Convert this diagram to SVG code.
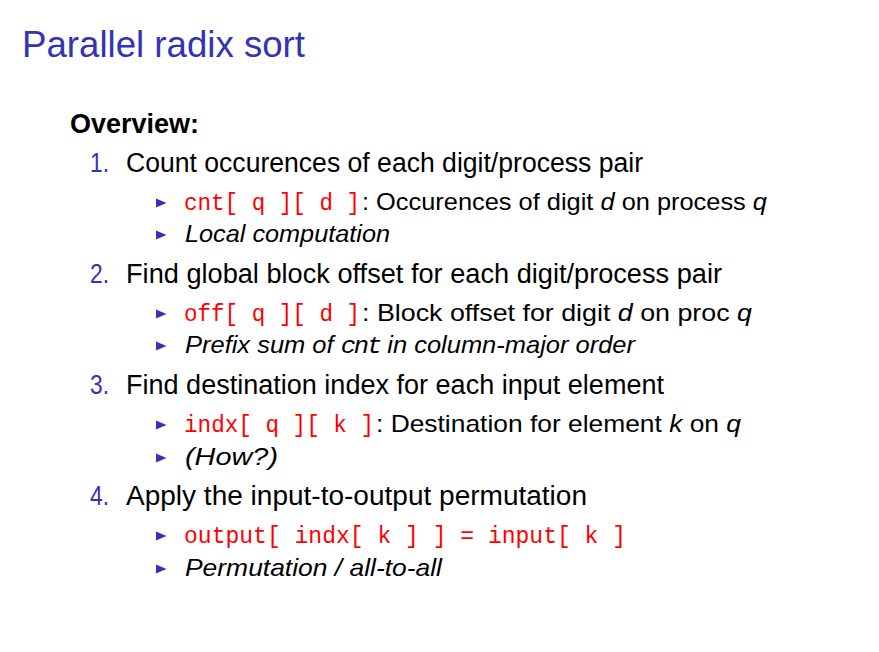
<svg xmlns="http://www.w3.org/2000/svg" width="879" height="652" viewBox="0 0 879 652">
<style>
.title{font-family:"Liberation Sans",Arial,sans-serif;font-size:37px;fill:#3333B3}
.head{font-family:"Liberation Sans",Arial,sans-serif;font-size:27px;font-weight:bold;fill:#000}
.num{font-family:"Liberation Sans",Arial,sans-serif;font-size:27px;fill:#3333B3}
.item{font-family:"Liberation Sans",Arial,sans-serif;font-size:27px;fill:#000}
.sub{font-family:"Liberation Sans",Arial,sans-serif;font-size:24px;fill:#000}
.it{font-style:italic}
.code{font-family:"Liberation Mono","Courier New",monospace;font-size:24px;fill:#FF0000}
.icode{font-family:"Liberation Mono","Courier New",monospace;font-style:italic;letter-spacing:-2px}
.bul{fill:#3333B3}
</style>
<defs>
<polygon id="tri" points="0,-4.5 10.5,0 0,4.5" class="bul"/>
</defs>
<rect width="879" height="652" fill="#fff"/>
<text class="title" x="22" y="57" textLength="283" lengthAdjust="spacingAndGlyphs">Parallel radix sort</text>
<text class="head" x="70" y="133" textLength="129" lengthAdjust="spacingAndGlyphs">Overview:</text>

<g id="item1">
<text class="num" x="90" y="172" textLength="19" lengthAdjust="spacingAndGlyphs">1.</text>
<text class="item" x="126" y="172" textLength="517" lengthAdjust="spacingAndGlyphs">Count occurences of each digit/process pair</text>
<use href="#tri" x="156" y="203"/>
<text class="code" x="184" y="210" textLength="176" lengthAdjust="spacingAndGlyphs">cnt[ q ][ d ]</text>
<text class="sub" x="362" y="210" textLength="405" lengthAdjust="spacingAndGlyphs">: Occurences of digit <tspan class="it">d</tspan> on process <tspan class="it">q</tspan></text>
<use href="#tri" x="156" y="235"/>
<text class="sub it" x="185" y="242" textLength="205" lengthAdjust="spacingAndGlyphs">Local computation</text>
</g>

<g id="item2">
<text class="num" x="90" y="283" textLength="19" lengthAdjust="spacingAndGlyphs">2.</text>
<text class="item" x="126" y="283" textLength="596" lengthAdjust="spacingAndGlyphs">Find global block offset for each digit/process pair</text>
<use href="#tri" x="156" y="314"/>
<text class="code" x="184" y="321" textLength="176" lengthAdjust="spacingAndGlyphs">off[ q ][ d ]</text>
<text class="sub" x="362" y="321" textLength="390" lengthAdjust="spacingAndGlyphs">: Block offset for digit <tspan class="it">d</tspan> on proc <tspan class="it">q</tspan></text>
<use href="#tri" x="156" y="346"/>
<text class="sub it" x="185" y="353" textLength="450" lengthAdjust="spacingAndGlyphs">Prefix sum of <tspan class="icode">cnt</tspan> in column-major order</text>
</g>

<g id="item3">
<text class="num" x="90" y="394" textLength="19" lengthAdjust="spacingAndGlyphs">3.</text>
<text class="item" x="126" y="394" textLength="538" lengthAdjust="spacingAndGlyphs">Find destination index for each input element</text>
<use href="#tri" x="156" y="425"/>
<text class="code" x="184" y="432" textLength="190" lengthAdjust="spacingAndGlyphs">indx[ q ][ k ]</text>
<text class="sub" x="376" y="432" textLength="365" lengthAdjust="spacingAndGlyphs">: Destination for element <tspan class="it">k</tspan> on <tspan class="it">q</tspan></text>
<use href="#tri" x="156" y="458"/>
<text class="sub it" x="185" y="465" textLength="93" lengthAdjust="spacingAndGlyphs">(How?)</text>
</g>

<g id="item4">
<text class="num" x="90" y="505" textLength="19" lengthAdjust="spacingAndGlyphs">4.</text>
<text class="item" x="126" y="505" textLength="461" lengthAdjust="spacingAndGlyphs">Apply the input-to-output permutation</text>
<use href="#tri" x="156" y="536"/>
<text class="code" x="184" y="543" textLength="442" lengthAdjust="spacingAndGlyphs">output[ indx[ k ] ] = input[ k ]</text>
<use href="#tri" x="156" y="569"/>
<text class="sub it" x="185" y="576" textLength="257" lengthAdjust="spacingAndGlyphs">Permutation / all-to-all</text>
</g>
</svg>
